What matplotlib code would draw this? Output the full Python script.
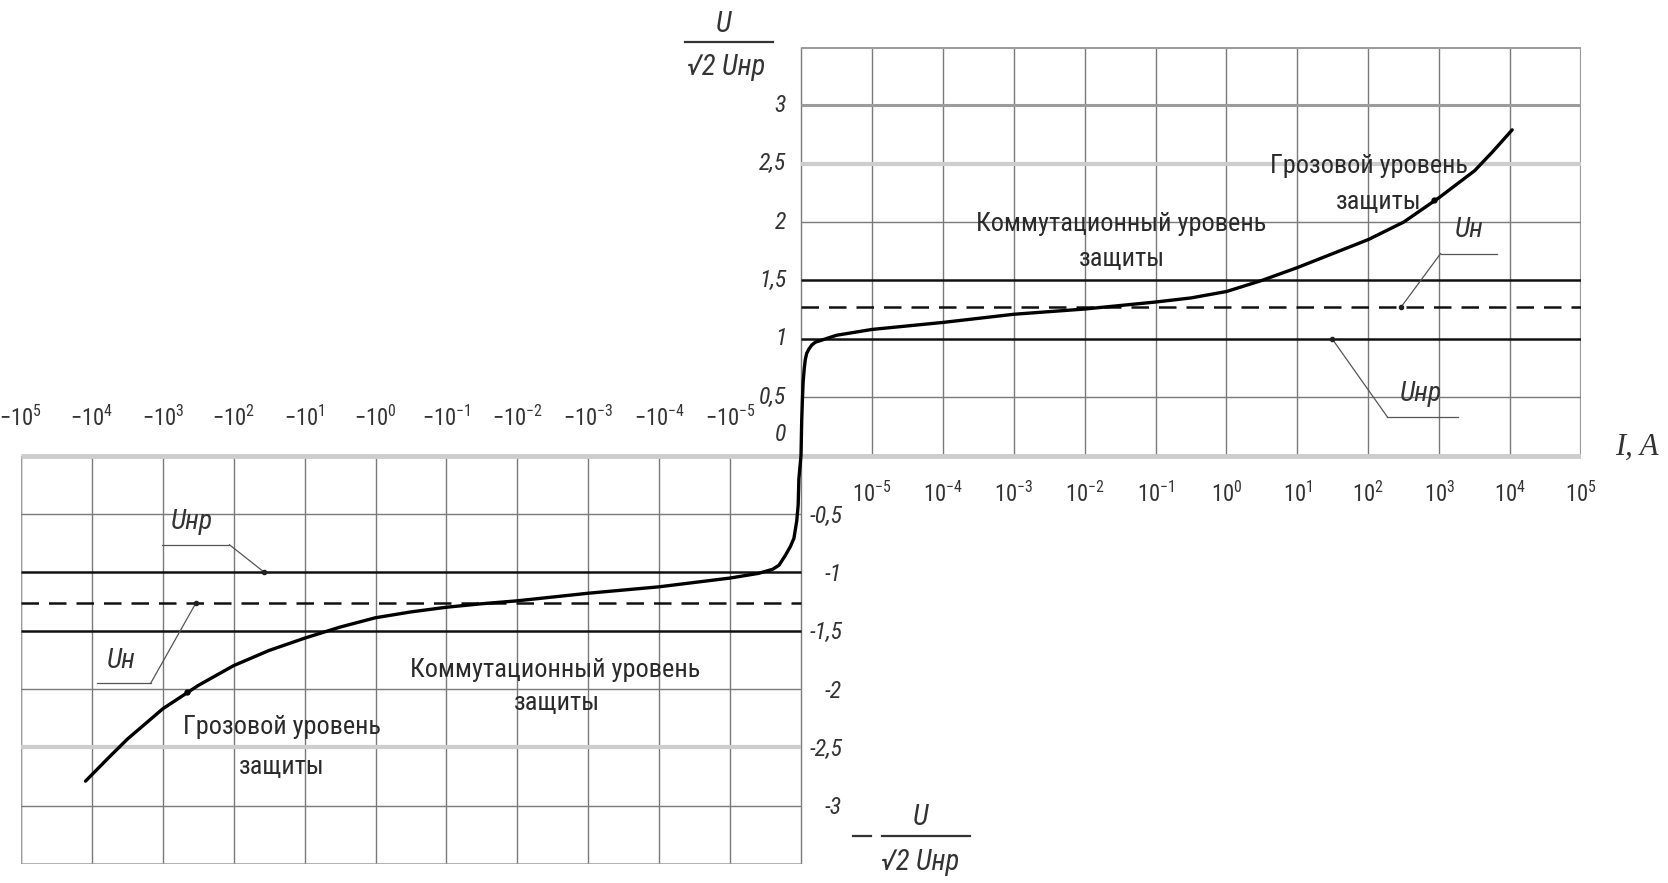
import numpy as np
import matplotlib
matplotlib.use("Agg")
import matplotlib.pyplot as plt
from matplotlib import font_manager as fm
from matplotlib.lines import Line2D

# ---------------- data ----------------
decades = [1e-5, 1e-4, 1e-3, 1e-2, 1e-1, 1e0, 1e1, 1e2, 1e3, 1e4, 1e5]
exp_labels = ["-5", "-4", "-3", "-2", "-1", "0", "1", "2", "3", "4", "5"]

u_tick_pos = [3.0, 2.5, 2.0, 1.5, 1.0, 0.5]
u_tick_pos_labels = ["3", "2,5", "2", "1,5", "1", "0,5"]
u_tick_neg = [-0.5, -1.0, -1.5, -2.0, -2.5, -3.0]
u_tick_neg_labels = ["-0,5", "-1", "-1,5", "-2", "-2,5", "-3"]

U_nr = 1.0          # Uнр level
U_lvl = 1.5         # upper bound of switching level
U_n_pos = 1.27      # Uн (positive side)
U_n_neg = -1.26     # Uн (negative side)

# varistor curve, current in A, voltage in U/(sqrt2*Uнр)
curve_I_neg = [-12300, -5620, -3160, -1000, -316, -100, -31.6, -10, -3.16, -1,
               -0.316, -0.1, -0.0316, -0.01, -1e-3, -1e-4, -1e-5, -8e-6, -6e-6,
               -4e-6, -3.1e-6, -2.2e-6, -1.5e-6, -1e-6, -6e-7, -4e-7, -3e-7]
curve_U_neg = [-2.79, -2.58, -2.43, -2.17, -1.97, -1.80, -1.67, -1.565, -1.47, -1.39,
               -1.34, -1.30, -1.27, -1.245, -1.18, -1.125, -1.05, -1.03, -1.01,
               -0.975, -0.94, -0.855, -0.78, -0.71, -0.56, -0.425, -0.2]
curve_I_pos = [0, 1e-7, 2e-7, 3e-7, 4.5e-7, 6e-7, 8e-7, 1.1e-6, 1.5e-6, 2e-6, 3e-6,
               5e-6, 1e-5, 1e-4, 1e-3, 1e-2, 0.0316, 0.1, 0.316, 1, 3.16, 10, 31.6,
               100, 316, 1000, 3160, 5620, 10700]
curve_U_pos = [0, 0.3, 0.48, 0.63, 0.74, 0.82, 0.875, 0.91, 0.945, 0.97, 0.99,
               1.03, 1.08, 1.14, 1.21, 1.255, 1.285, 1.315, 1.35, 1.405, 1.50, 1.61, 1.73,
               1.85, 2.00, 2.21, 2.44, 2.60, 2.79]

# ---------------- fonts ----------------
def pick_narrow():
    fl = fm.fontManager.ttflist
    names = {f.name for f in fl}
    for n in ["Liberation Sans Narrow", "Roboto Condensed", "Open Sans Condensed"]:
        if n in names:
            return n, "normal"
    for fam in ["DejaVu Sans", "Roboto", "Noto Sans", "Open Sans"]:
        if any(f.name == fam and str(f.stretch) in ("condensed", "semi-condensed", "extra-condensed")
               for f in fl):
            return fam, "condensed"
    return "DejaVu Sans", "normal"

NARROW, STRETCH = pick_narrow()
plt.rcParams["font.family"] = [NARROW, "DejaVu Sans"]
plt.rcParams["mathtext.fontset"] = "custom"
plt.rcParams["mathtext.rm"] = NARROW
plt.rcParams["mathtext.it"] = NARROW + ":italic"
plt.rcParams["mathtext.default"] = "it"

W, H = 1668, 883
fig = plt.figure(figsize=(W / 100, H / 100), dpi=100)
ax = fig.add_axes([21 / W, 19 / H, 1560 / W, 817 / H])
ax.set_xscale("symlog", linthresh=1e-5, linscale=0.9)
ax.set_xlim(-1e5, 1e5)
ax.set_ylim(-3.5, 3.5)
ax.axis("off")

renderer = fig.canvas.get_renderer()


def fit(s, target, **kw):
    t = fig.text(0, 0, s, fontsize=10, **kw)
    w = t.get_window_extent(renderer=renderer).width
    t.remove()
    return 10 * target / w


def P(p):
    """position in decade cells -> current (layout helper for annotations)"""
    return float(np.sign(p) * 10 ** (abs(p) - 6)) if abs(p) >= 1 else p * 1e-5


GRID = "#7a7a7a"
LIGHT = "#cdcdcd"
xs_pos = [0] + decades
xs_neg = [0] + [-d for d in decades]

# vertical grid lines
ax.vlines(xs_pos, 0, 3.5, colors=GRID, lw=1.0, zorder=1)
ax.vlines(xs_neg, -3.5, 0, colors=GRID, lw=1.0, zorder=1)
ax.vlines([1e5], 0, 3.5, colors="#9a9a9a", lw=1.6, zorder=1)
ax.vlines([-1e5], -3.5, 0, colors="#9a9a9a", lw=1.6, zorder=1)

# horizontal grid lines
ax.hlines([0.5, 2.0], 0, 1e5, colors=GRID, lw=1.0, zorder=1)
ax.hlines([2.5], 0, 1e5, colors=LIGHT, lw=3.0, zorder=1)
ax.hlines([3.0, 3.5], 0, 1e5, colors="#9c9c9c", lw=2.2, zorder=1)
ax.hlines([-0.5, -2.0, -3.0], -1e5, 0, colors=GRID, lw=1.0, zorder=1)
ax.hlines([-2.5], -1e5, 0, colors=LIGHT, lw=3.0, zorder=1)
ax.hlines([-3.5], -1e5, 0, colors="#9c9c9c", lw=1.8, zorder=1)
ax.hlines([0], -1e5, 1e5, colors=LIGHT, lw=3.5, zorder=1)

# level lines
ax.hlines([U_nr, U_lvl], 0, 1e5, colors="#111111", lw=1.8, zorder=3)
ax.hlines([-U_nr, -U_lvl], -1e5, 0, colors="#111111", lw=1.8, zorder=3)
ax.plot([0, 1e5], [U_n_pos, U_n_pos], color="#111111", lw=1.8, ls=(0, (7, 4)), zorder=3)
ax.plot([-1e5, 0], [U_n_neg, U_n_neg], color="#111111", lw=1.8, ls=(0, (7, 4)), zorder=3)

# curve
cI = curve_I_neg + curve_I_pos
cU = curve_U_neg + curve_U_pos
ax.plot(cI, cU, color="black", lw=2.4, solid_capstyle="round", solid_joinstyle="round", zorder=5)

# tick labels
tk = dict(color="#333333", fontstretch=STRETCH)
fs_tick = fit(r"$-10^{-3}$", 40, **tk) * 1.3
for d, e in zip(decades, exp_labels):
    ax.text(d, -0.33, r"$10^{%s}$" % e, ha="center", va="center", fontsize=fs_tick, **tk)
    ax.text(-d, 0.32, r"$-10^{%s}$" % e, ha="center", va="center", fontsize=fs_tick, **tk)

fs_y = fs_tick * 1.05
for v, s in zip(u_tick_pos, u_tick_pos_labels):
    ax.text(P(-0.21), v, s, ha="right", va="center", fontsize=fs_y, style="italic", **tk)
ax.text(P(-0.21), 0.18, "0", ha="right", va="center", fontsize=fs_y, style="italic", **tk)
for v, s in zip(u_tick_neg, u_tick_neg_labels):
    ax.text(P(0.58), v - 0.02, s, ha="right", va="center", fontsize=fs_y, style="italic", **tk)

# region texts
tx = dict(color="#2a2a2a", fontstretch=STRETCH, ha="center", va="center")
fs_k = fit("Коммутационный уровень", 292, fontstretch=STRETCH)
fs_g = fit("Грозовой уровень", 198, fontstretch=STRETCH)
ax.text(P(4.52), 1.98, "Коммутационный уровень", fontsize=fs_k, **tx)
ax.text(P(4.52), 1.68, "защиты", fontsize=fs_k, **tx)
ax.text(P(8.01), 2.48, "Грозовой уровень", fontsize=fs_g, **tx)
ax.text(P(8.15), 2.17, "защиты", fontsize=fs_g, **tx)
ax.text(P(-3.47), -1.84, "Коммутационный уровень", fontsize=fs_k, **tx)
ax.text(P(-3.44), -2.12, "защиты", fontsize=fs_k, **tx)
ax.text(P(-7.32), -2.33, "Грозовой уровень", fontsize=fs_g, **tx)
ax.text(P(-7.33), -2.67, "защиты", fontsize=fs_g, **tx)

# leader annotations
LC = "#555555"
fs_u = fit("Uнр", 42, style="italic", fontstretch=STRETCH)
lab = dict(color="#333333", fontstretch=STRETCH, style="italic", ha="center", va="center", fontsize=fs_u)


def leader(text_pos, text_u, ul0, ul1, ul_u, end_pos, end_u, label, from_left):
    ax.text(P(text_pos), text_u, label, **lab)
    ax.plot([P(ul0), P(ul1)], [ul_u, ul_u], color=LC, lw=0.9, zorder=4)
    start = ul0 if from_left else ul1
    ax.plot([P(start), P(end_pos)], [ul_u, end_u], color=LC, lw=0.9, zorder=4)
    ax.plot([P(end_pos)], [end_u], "o", color="#222222", ms=3, zorder=6)


leader(9.42, 1.93, 9.02, 9.82, 1.73, 8.46, U_n_pos, "Uн", True)
leader(8.74, 0.53, 8.27, 9.26, 0.33, 7.49, U_nr, "Uнр", True)
leader(-8.59, -0.57, -9.01, -8.06, -0.765, -7.57, -U_nr, "Uнр", False)
leader(-9.59, -1.76, -9.93, -9.17, -1.95, -8.53, U_n_neg, "Uн", False)
ax.plot([P(8.93), P(-8.66)], [2.19, -2.03], "o", color="black", ms=3.5, zorder=6)

# axis titles (fractions)
def px(x, y):
    return x / W, 1 - y / H

fs_frac = fit("√2 Uнр", 78, style="italic", fontstretch=STRETCH)
ft = dict(color="#333333", fontstretch=STRETCH, style="italic", ha="center", va="center", fontsize=fs_frac)
fig.text(*px(724, 24), "U", **ft)
fig.add_artist(Line2D([685 / W, 773 / W], [1 - 42 / H] * 2, color="#333333", lw=1.6))
fig.text(*px(726, 67), "√2 Uнр", **ft)

fig.add_artist(Line2D([853 / W, 871 / W], [1 - 836 / H] * 2, color="#333333", lw=1.6))
fig.add_artist(Line2D([882 / W, 970 / W], [1 - 836 / H] * 2, color="#333333", lw=1.6))
fig.text(*px(921, 817), "U", **ft)
fig.text(*px(920, 862), "√2 Uнр", **ft)

fig.text(*px(1637, 447), "I, A", fontsize=22, family="Liberation Serif", style="italic",
         color="#333333", ha="center", va="center")

fig.savefig("out.png", dpi=100, facecolor="white")
